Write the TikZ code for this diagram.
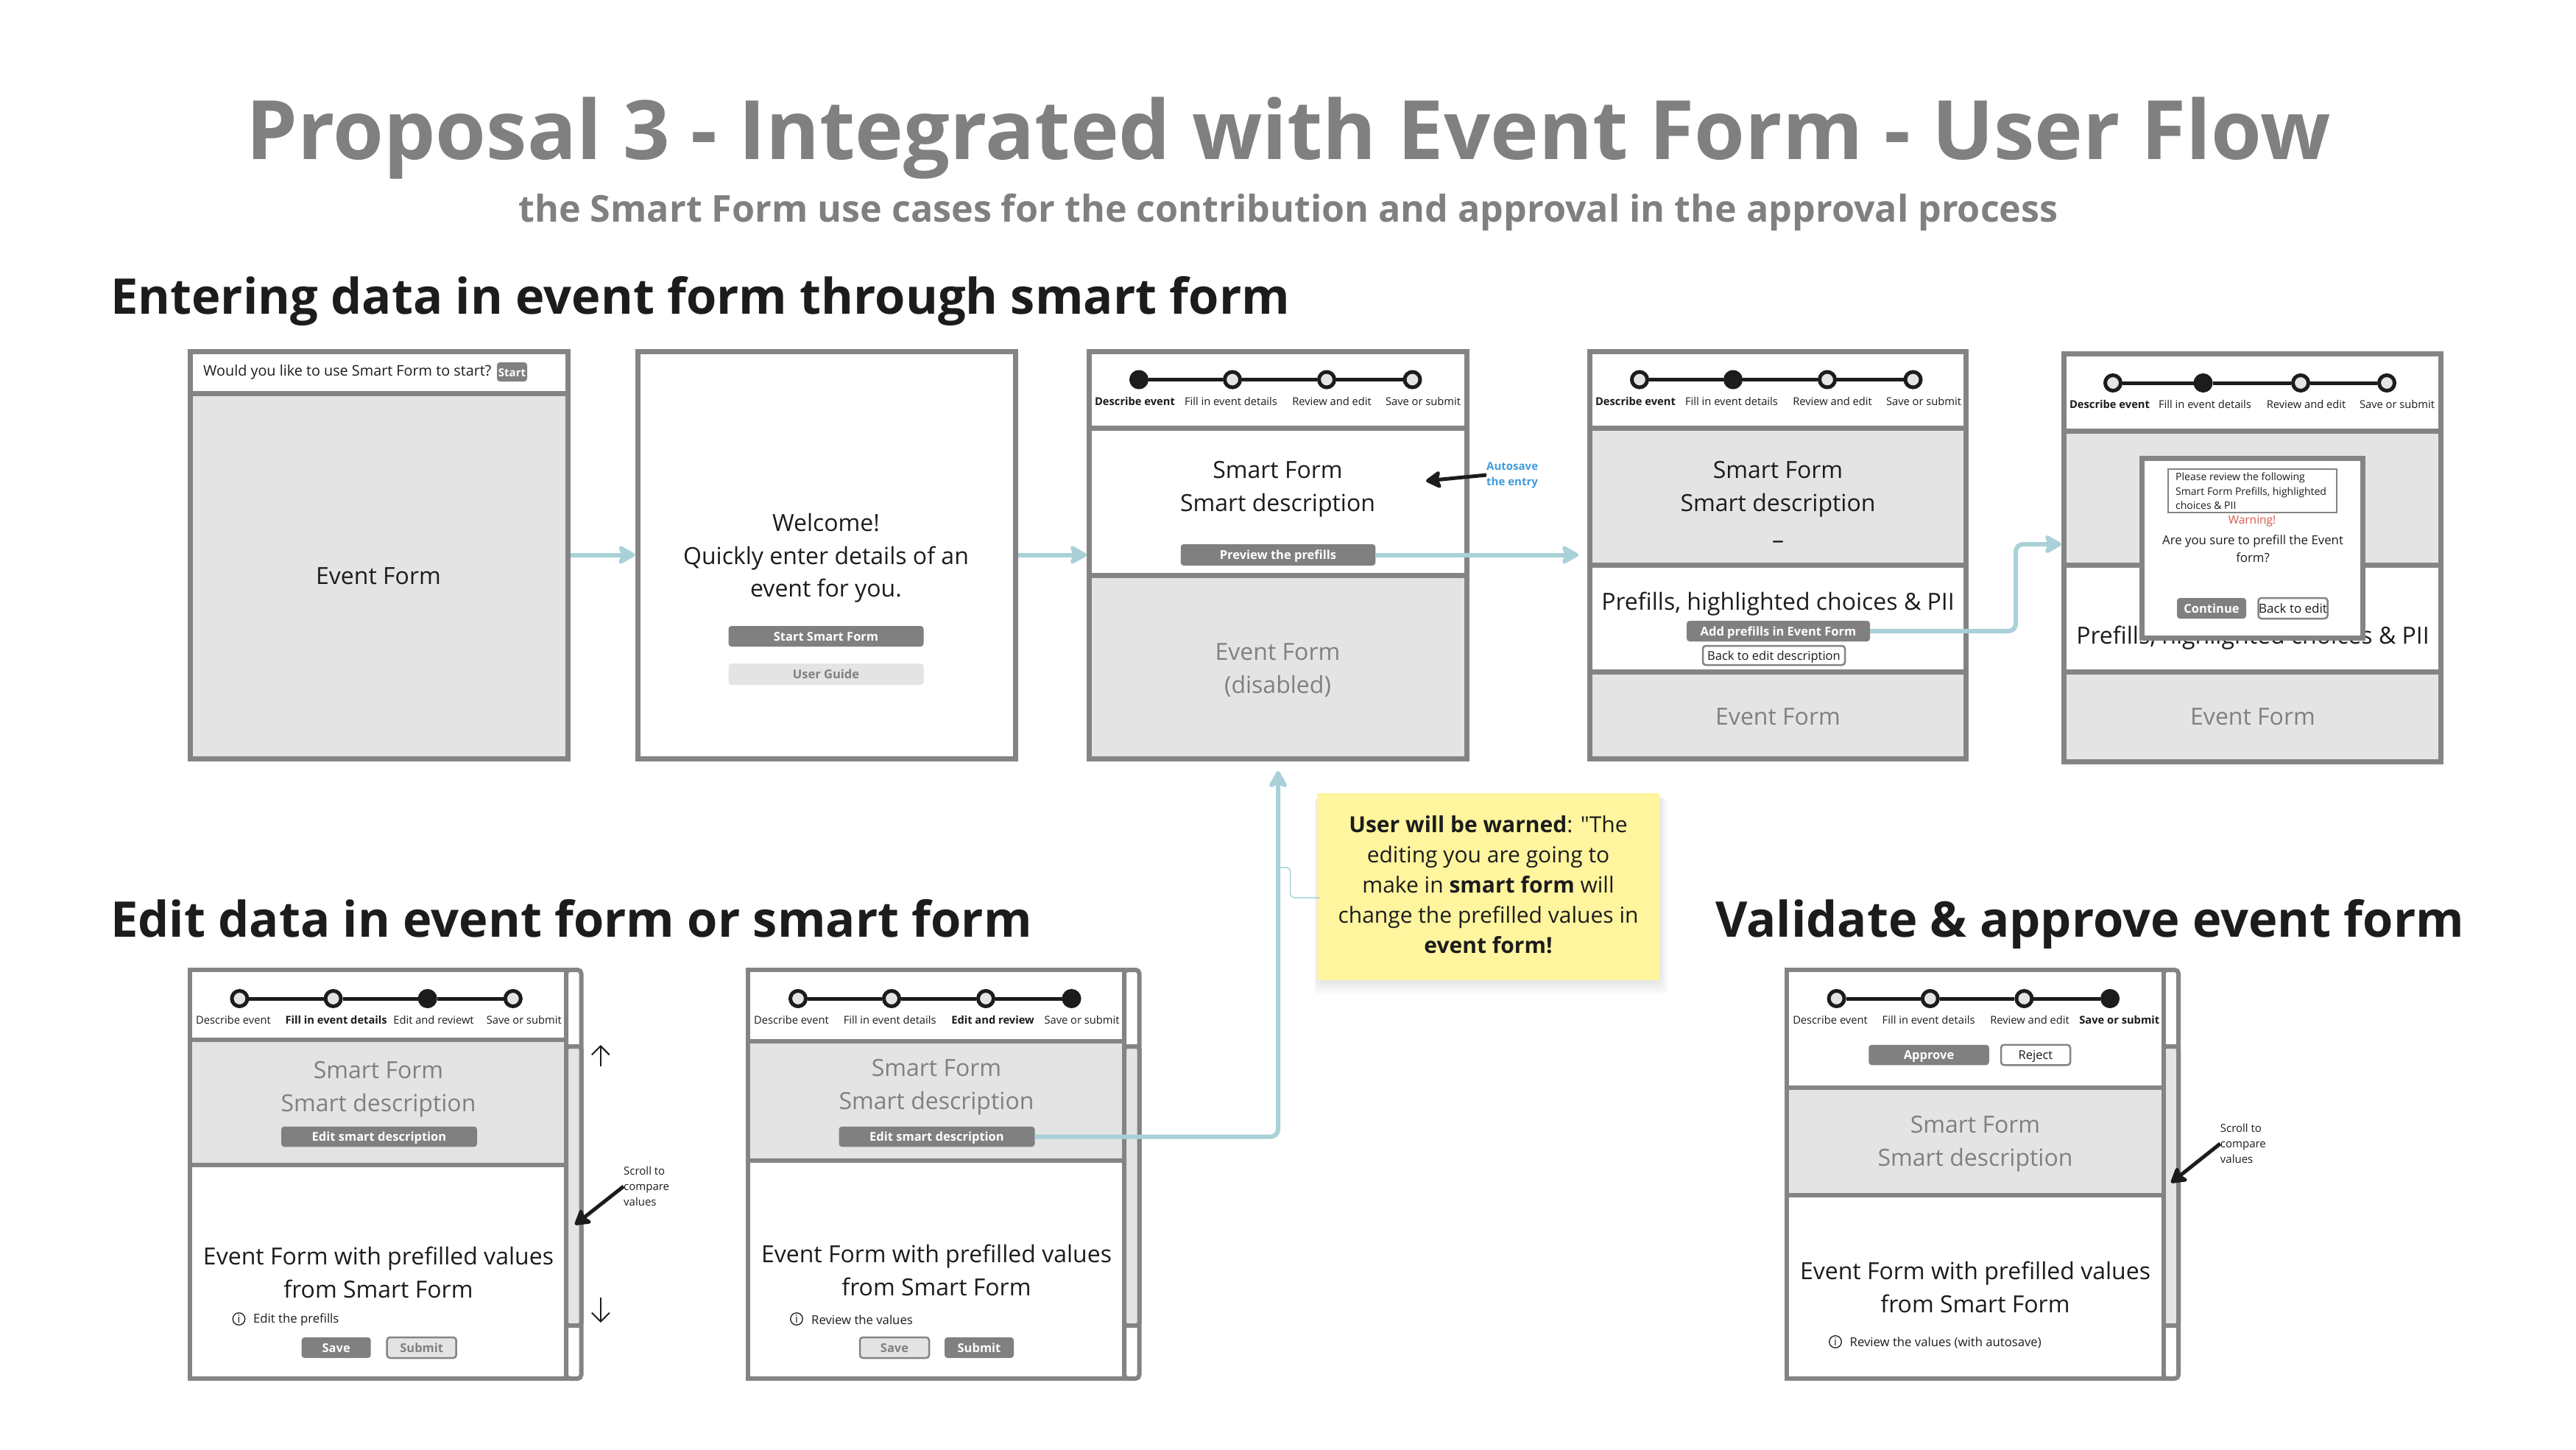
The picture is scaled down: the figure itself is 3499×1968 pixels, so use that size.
\documentclass[tikz,border=0pt]{standalone}
\usepackage{fontspec}
\setmainfont{Open Sans}
\newfontfamily\plainquote{Open Sans}
\usetikzlibrary{arrows.meta}
\definecolor{paneline}{HTML}{848484}
\definecolor{panefill}{HTML}{E4E4E4}
\definecolor{ink}{HTML}{1C1C1C}
\definecolor{fadetext}{HTML}{808080}
\definecolor{flowline}{HTML}{A9D1D7}
\definecolor{sticky}{HTML}{FFF59E}
\definecolor{autoblue}{HTML}{3F9BDD}
\definecolor{warnred}{HTML}{D9554A}
\tikzset{
    panewhite/.style={draw=paneline, fill=white, inner sep=0pt},
    panegrey/.style={draw=paneline, fill=panefill, inner sep=0pt},
    panebare/.style={draw=paneline, inner sep=0pt},
    scrollbox/.style={draw=paneline, fill=white, inner sep=0pt, rounded corners=5pt},
    scrollknob/.style={draw=paneline, fill=panefill, inner sep=0pt, rounded corners=4pt},
    headtext/.style={inner sep=0pt, font=\fontsize{111.3}{134}\selectfont\bfseries, text=fadetext},
    subtext/.style={inner sep=0pt, font=\fontsize{50.2}{62}\selectfont\bfseries, text=fadetext},
    parttext/.style={inner sep=0pt, anchor=base west, font=\fontsize{66.8}{82}\selectfont\bfseries, text=ink},
    bodytext/.style={inner sep=0pt, align=center, font=\fontsize{32}{44.5}\selectfont, text=ink},
    bodyfade/.style={bodytext, text=fadetext},
    smalltext/.style={inner sep=0pt, align=left, font=\fontsize{16.7}{21}\selectfont, text=ink},
    scrolltext/.style={smalltext, font=\fontsize{15}{21}\selectfont},
    notetext/.style={inner sep=0pt, align=center, font=\fontsize{30}{41}\selectfont, text=ink},
    steplabel/.style={inner sep=0pt, font=\fontsize{14.7}{21}\selectfont, text=ink},
    stepbold/.style={steplabel, font=\fontsize{14.7}{21}\selectfont\bfseries},
    stepoff/.style={circle, draw=ink, fill=panefill, line width=5pt, minimum size=21pt, inner sep=0pt},
    stepon/.style={circle, draw=ink, fill=ink, line width=5pt, minimum size=21pt, inner sep=0pt},
    stepline/.style={draw=ink, line width=5pt},
    buttonbase/.style={rounded corners=4pt, inner sep=0pt, text height=12pt, text depth=0pt, font=\fontsize{16.5}{21}\selectfont\bfseries},
    buttonfull/.style={buttonbase, fill=fadetext, text=white},
    buttonline/.style={buttonbase, draw=paneline, fill=white, line width=2.5pt, text=ink, font=\fontsize{16.5}{21}\selectfont},
    buttonmute/.style={buttonbase, draw=paneline, fill=panefill, line width=2.5pt, text=fadetext},
    buttonpale/.style={buttonbase, fill=panefill, text=fadetext},
    flow/.style={draw=flowline, line width=6pt, rounded corners=10pt, -{Stealth[length=27pt, width=30pt, inset=6pt, round]}},
    notelink/.style={draw=flowline, line width=1.5pt, rounded corners=6pt},
    pointer/.style={draw=ink, line width=5pt, -{Stealth[length=24pt, width=28pt, inset=5pt, round]}},
    scrollmark/.style={draw=ink, line width=2pt, -{Straight Barb[length=12pt, width=24pt]}},
    infomark/.style={circle, draw=ink, line width=1.3pt, minimum size=16.5pt, inner sep=0pt, font=\fontsize{15}{15}\selectfont, text=ink},
}

\begin{document}
\begin{tikzpicture}[x=1pt, y=-1pt]
    \useasboundingbox (0,0) rectangle (3499,1968);

    \node[headtext] (title) at (1750,188) {Proposal 3 - Integrated with Event Form - User Flow};
    \node[subtext] (subtitle) at (1750,288) {the Smart Form use cases for the contribution and approval in the approval process};
    \node[parttext] (partenter) at (150,426) {Entering data in event form through smart form};
    \node[parttext] (partedit) at (150,1272) {Edit data in event form or smart form};
    \node[parttext] (partvalid) at (2330,1272) {Validate \& approve event form};

    \foreach \nm/\xa/\ya/\xb/\yb/\sty in {
        fonetop/258/477/771/534.5/panewhite, fonebody/258/534.5/771/1030/panegrey, f1/258/477/771/1030/panebare,
        f2/866/477/1379/1030/panewhite,
        fthreetop/1479.5/477/1992.5/581.5/panewhite, fthreemid/1479.5/581.5/1992.5/781/panewhite, fthreelow/1479.5/781/1992.5/1030/panegrey, f3/1479.5/477/1992.5/1030/panebare,
        ffourtop/2159.5/477/2670.5/581.5/panewhite, ffourmid/2159.5/581.5/2670.5/767.5/panegrey, ffourpre/2159.5/767.5/2670.5/912/panewhite, ffourlow/2159.5/912/2670.5/1030/panegrey,
        ffivetop/2803.5/480.5/3315.5/585.5/panewhite, ffivemid/2803.5/585.5/3315.5/767.5/panegrey, ffivepre/2803.5/767.5/3315.5/912/panewhite, ffivelow/2803.5/912/3315.5/1034.5/panegrey}{
        \pgfmathsetmacro{\w}{\xb-\xa}
        \pgfmathsetmacro{\h}{\yb-\ya}
        \node[\sty, line width=7pt, minimum width=\w pt, minimum height=\h pt] (\nm) at ({(\xa+\xb)/2},{(\ya+\yb)/2}) {};
    }

    \foreach \nm/\xa/\ya/\xb/\yb/\sty in {
        scrolla/769/1317/789.5/1872/scrollbox, knoba/769/1421/789.5/1800/scrollknob,
        atop/258/1317/769/1411.5/panewhite, amid/258/1411.5/769/1581.5/panegrey, alow/258/1581.5/769/1872/panewhite,
        scrollb/1527/1317/1547.5/1872/scrollbox, knobb/1527/1421/1547.5/1800/scrollknob,
        btop/1016/1317/1527/1413.5/panewhite, bmid/1016/1413.5/1527/1576/panegrey, blow/1016/1576/1527/1872/panewhite,
        scrollc/2938.5/1317/2959/1872/scrollbox, knobc/2938.5/1421/2959/1800/scrollknob,
        ctop/2427/1317/2938.5/1476.5/panewhite, cmid/2427/1476.5/2938.5/1622.5/panegrey, clow/2427/1622.5/2938.5/1872/panewhite}{
        \pgfmathsetmacro{\w}{\xb-\xa}
        \pgfmathsetmacro{\h}{\yb-\ya}
        \node[\sty, line width=6pt, minimum width=\w pt, minimum height=\h pt] (\nm) at ({(\xa+\xb)/2},{(\ya+\yb)/2}) {};
    }

    \foreach \bar/\y/\xa/\xb/\xc/\xd/\on in {
        p/515.5/1547/1674/1802/1918.5/1, q/515.5/2227/2354/2482/2598.5/2, r/520/2870/2992.5/3125/3242/2,
        s/1356/325.4/452.6/580.7/696.8/3, t/1356/1084/1211/1339/1455.5/4, u/1356/2494.6/2621.8/2749.4/2866/4}{
        \foreach \i/\x in {1/\xa,2/\xb,3/\xc,4/\xd} {
            \ifnum\i=\on\def\sty{stepon}\else\def\sty{stepoff}\fi
            \node[\sty] (\bar\i) at (\x,\y) {};
        }
        \draw[stepline] (\bar1) -- (\bar2);
        \draw[stepline] (\bar2) -- (\bar3);
        \draw[stepline] (\bar3) -- (\bar4);
    }

    \foreach \nm/\x/\y/\sty/\txt in {
        pa/1541.5/545/stepbold/Describe event, pb/1672/545/steplabel/Fill in event details, pc/1809/545/steplabel/Review and edit, pd/1933/545/steplabel/Save or submit,
        qa/2221.5/545/stepbold/Describe event, qb/2352/545/steplabel/Fill in event details, qc/2489/545/steplabel/Review and edit, qd/2613/545/steplabel/Save or submit,
        ra/2865.5/549/stepbold/Describe event, rb/2995/549/steplabel/Fill in event details, rc/3132.5/549/steplabel/Review and edit, rd/3256/549/steplabel/Save or submit,
        sa/317/1385/steplabel/Describe event, sb/456.7/1385/stepbold/Fill in event details, sc/589/1385/steplabel/Edit and reviewt, sd/711.8/1385/steplabel/Save or submit,
        ta/1075/1385/steplabel/Describe event, tb/1208.7/1385/steplabel/Fill in event details, tc/1348.5/1385/stepbold/Edit and review, td/1469.5/1385/steplabel/Save or submit,
        ua/2486/1385/steplabel/Describe event, ub/2619.6/1385/steplabel/Fill in event details, uc/2757/1385/steplabel/Review and edit, ud/2878.8/1385/stepbold/Save or submit}{
        \node[\sty] (\nm) at (\x,\y) {\txt};
    }

    \node[smalltext, anchor=west, font=\fontsize{19.8}{26}\selectfont] (askstart) at (276,505) {Would you like to use Smart Form to start?};
    \node[buttonfull, minimum width=41pt, minimum height=26pt, font=\fontsize{15}{18}\selectfont\bfseries] (startmini) at (695.5,505) {Start};
    \node[bodytext] (eventone) at (514,782) {Event Form};

    \node[bodytext] (welcome) at (1122,758) {Welcome!\\Quickly enter details of an\\event for you.};
    \node[buttonfull, minimum width=265pt, minimum height=28pt] (startsmart) at (1122,864) {Start Smart Form};
    \node[buttonpale, minimum width=265pt, minimum height=29pt] (userguide) at (1122,915.5) {User Guide};

    \node[bodytext] (smartp) at (1735.5,664) {Smart Form\\Smart description};
    \node[buttonfull, minimum width=264.5pt, minimum height=29pt] (previewbtn) at (1736,753.5) {Preview the prefills};
    \node[bodyfade] (disabled) at (1735.5,910) {Event Form\\(disabled)};
    \node[smalltext, anchor=west, font=\fontsize{15}{21}\selectfont\bfseries, text=autoblue] (autosave) at (2019,645) {Autosave\\the entry};
    \coordinate (autotip) at (1937,653);

    \node[bodytext] (smartq) at (2415,664) {Smart Form\\Smart description};
    \node[bodytext] (dashq) at (2415,740) {--};
    \node[bodytext] (prefillq) at (2415,820) {Prefills, highlighted choices \& PII};
    \node[buttonfull, minimum width=249pt, minimum height=28pt] (addbtn) at (2415.5,857) {Add prefills in Event Form};
    \node[buttonline, minimum width=193pt, minimum height=26pt] (backbtn) at (2409.5,890) {Back to edit description};
    \node[bodyfade] (eventq) at (2415,973) {Event Form};

    \node[bodytext] (prefillr) at (3060,866) {Prefills, highlighted choices \& PII};
    \node[bodyfade] (eventr) at (3060,973) {Event Form};
    \node[panewhite, line width=7pt, minimum width=300pt, minimum height=244pt] (modal) at (3059.5,744.5) {};
    \node[panebare, line width=1.5pt, minimum width=229pt, minimum height=59pt] (reviewbox) at (3059.5,666.5) {};
    \node[smalltext, anchor=west, font=\fontsize{14}{19.5}\selectfont] (reviewtext) at (2955,667) {Please review the following\\Smart Form Prefills, highlighted\\choices \& PII};
    \node[smalltext, align=center, font=\fontsize{15.5}{21}\selectfont, text=warnred] (warning) at (3059,708) {Warning!};
    \node[smalltext, align=center, font=\fontsize{16.8}{24}\selectfont] (sure) at (3060,745) {Are you sure to prefill the Event\\form?};
    \node[buttonfull, minimum width=94pt, minimum height=28pt] (continue) at (3004,826) {Continue};
    \node[buttonline, minimum width=94pt, minimum height=28pt, font=\fontsize{17}{21}\selectfont] (backedit) at (3114.5,826) {Back to edit};

    \node[bodyfade] (smarts) at (514,1479) {Smart Form\\Smart description};
    \node[buttonfull, minimum width=266pt, minimum height=27.5pt] (edita) at (515,1543.5) {Edit smart description};
    \node[bodytext] (valuess) at (514,1728) {Event Form with prefilled values\\from Smart Form};
    \node[infomark] (infos) at (324.5,1791) {i};
    \node[smalltext, anchor=west] (hints) at (344,1792) {Edit the prefills};
    \node[buttonfull, minimum width=94pt, minimum height=28pt] (saves) at (456.7,1830) {Save};
    \node[buttonmute, minimum width=94pt, minimum height=28pt] (submits) at (572.7,1830) {Submit};
    \node[scrolltext, anchor=west] (scrollnotes) at (847,1611) {Scroll to\\compare\\values};
    \coordinate (scrolltips) at (781,1663);
    \coordinate (upbases) at (815.8,1448);
    \coordinate (uptips) at (815.8,1419);
    \coordinate (downbases) at (815.8,1762);
    \coordinate (downtips) at (815.8,1796);

    \node[bodyfade] (smartt) at (1272,1476) {Smart Form\\Smart description};
    \node[buttonfull, minimum width=266pt, minimum height=27.5pt] (editb) at (1272.5,1543.5) {Edit smart description};
    \node[bodytext] (valuest) at (1272,1725) {Event Form with prefilled values\\from Smart Form};
    \node[infomark] (infot) at (1082,1791) {i};
    \node[smalltext, anchor=west] (hintt) at (1102,1792) {Review the values};
    \node[buttonmute, minimum width=94pt, minimum height=28pt] (savet) at (1215,1830) {Save};
    \node[buttonfull, minimum width=94pt, minimum height=28pt] (submitt) at (1330,1830) {Submit};

    \node[buttonfull, minimum width=163.5pt, minimum height=27.5pt] (approve) at (2620,1432.5) {Approve};
    \node[buttonline, minimum width=94pt, minimum height=27.5pt] (reject) at (2765,1432.5) {Reject};
    \node[bodyfade] (smartu) at (2683,1553) {Smart Form\\Smart description};
    \node[bodytext] (valuesu) at (2683,1748) {Event Form with prefilled values\\from Smart Form};
    \node[infomark] (infou) at (2493,1822) {i};
    \node[smalltext, anchor=west] (hintu) at (2512.5,1823) {Review the values (with autosave)};
    \node[scrolltext, anchor=west] (scrollnoteu) at (3015.7,1553) {Scroll to\\compare\\values};
    \coordinate (scrolltipu) at (2949,1606);

    \foreach \i in {1,...,8} {
        \fill[black, opacity=0.012, rounded corners=6pt] ({1789-\i*0.5},{1077+\i}) rectangle ({2254+\i*1.5},{1331+\i*2.5});
    }
    \node[fill=sticky, inner sep=0pt, minimum width=465pt, minimum height=254pt] (warnnote) at (2021.5,1204) {};
    \node[notetext] (warntext) at (2021.5,1201.5) {\textbf{User will be warned}: {\plainquote"}The\\editing you are going to\\make in \textbf{smart form} will\\change the prefilled values in\\\textbf{event form!}};

    \coordinate (ffourin) at (2144,753.5);
    \coordinate (bendadda) at (2738,857);
    \coordinate (bendaddb) at (2738,739);
    \coordinate (ffivein) at (2800,739);
    \coordinate (bendedit) at (1736,1543.5);
    \coordinate (fthreein) at (1736,1047);
    \coordinate (linka) at (1793,1219);
    \coordinate (linkb) at (1752.6,1219);
    \coordinate (linkc) at (1752.6,1178);
    \coordinate (linkd) at (1739,1178);

    \draw[flow] (f1.east) -- (f2.west);
    \draw[flow] (f2.east) -- (f3.west);
    \draw[flow] (previewbtn.east) -- (ffourin);
    \draw[flow] (addbtn.east) -- (bendadda) -- (bendaddb) -- (ffivein);
    \draw[flow] (editb.east) -- (bendedit) -- (fthreein);
    \draw[notelink] (linka) -- (linkb) -- (linkc) -- (linkd);

    \draw[pointer] (autosave.west) -- (autotip);
    \draw[pointer] (scrollnotes.west) -- (scrolltips);
    \draw[pointer] (scrollnoteu.west) -- (scrolltipu);
    \draw[scrollmark] (upbases) -- (uptips);
    \draw[scrollmark] (downbases) -- (downtips);
\end{tikzpicture}
\end{document}
